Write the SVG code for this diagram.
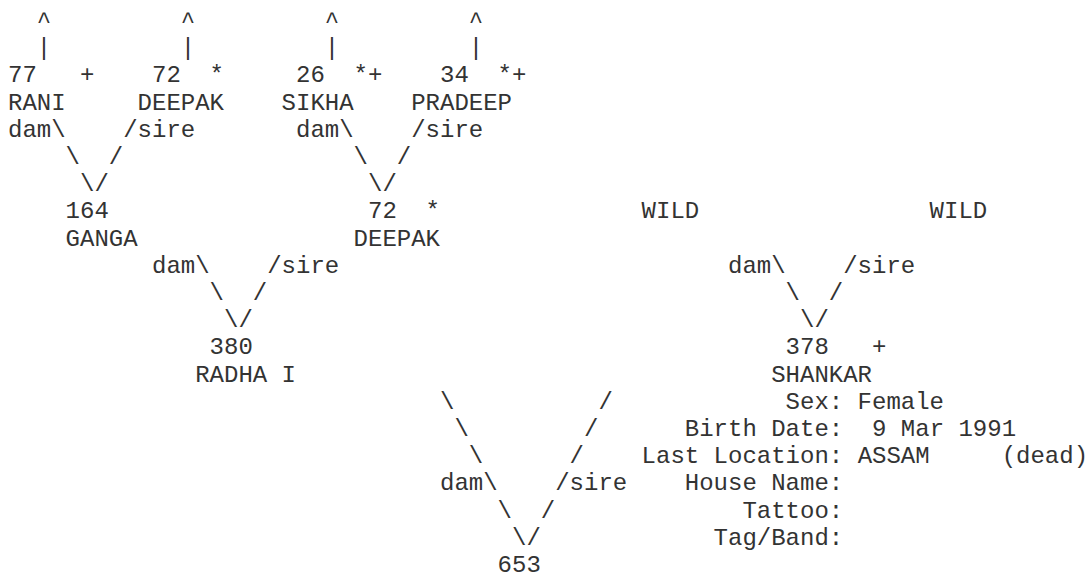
<svg xmlns="http://www.w3.org/2000/svg" width="1091" height="581" viewBox="0 0 1091 581">
<style>
text{font-family:"Liberation Mono","Courier New",monospace;font-size:24px;fill:#333;white-space:pre}
</style>
<rect width="1091" height="581" fill="#fff"/>
<g id="connectors">
<text x="36.8" y="28">^</text><text x="180.8" y="28">^</text><text x="324.8" y="28">^</text><text x="468.8" y="28">^</text>
<text x="36.8" y="55.2">|</text><text x="180.8" y="55.2">|</text><text x="324.8" y="55.2">|</text><text x="468.8" y="55.2">|</text>
<text x="8" y="136.8">dam\</text><text x="123.2" y="136.8">/sire</text>
<text x="65.6" y="164">\</text><text x="108.8" y="164">/</text>
<text x="80" y="191.2">\/</text>
<text x="296" y="136.8">dam\</text><text x="411.2" y="136.8">/sire</text>
<text x="353.6" y="164">\</text><text x="396.8" y="164">/</text>
<text x="368" y="191.2">\/</text>
<text x="152" y="272.8">dam\</text><text x="267.2" y="272.8">/sire</text>
<text x="209.6" y="300">\</text><text x="252.8" y="300">/</text>
<text x="224" y="327.2">\/</text>
<text x="728" y="272.8">dam\</text><text x="843.2" y="272.8">/sire</text>
<text x="785.6" y="300">\</text><text x="828.8" y="300">/</text>
<text x="800" y="327.2">\/</text>
<text x="440" y="408.8">\</text><text x="598.4" y="408.8">/</text>
<text x="454.4" y="436">\</text><text x="584" y="436">/</text>
<text x="468.8" y="463.2">\</text><text x="569.6" y="463.2">/</text>
<text x="440" y="490.4">dam\</text><text x="555.2" y="490.4">/sire</text>
<text x="497.6" y="517.6">\</text><text x="540.8" y="517.6">/</text>
<text x="512" y="544.8">\/</text>
</g>
<g id="node-rani"><text x="8" y="82.4">77</text><text x="80" y="82.4">+</text><text x="8" y="109.6">RANI</text></g>
<g id="node-deepak-top"><text x="152" y="82.4">72</text><text x="209.6" y="82.4">*</text><text x="137.6" y="109.6">DEEPAK</text></g>
<g id="node-sikha"><text x="296" y="82.4">26</text><text x="353.6" y="82.4">*+</text><text x="281.6" y="109.6">SIKHA</text></g>
<g id="node-pradeep"><text x="440" y="82.4">34</text><text x="497.6" y="82.4">*+</text><text x="411.2" y="109.6">PRADEEP</text></g>
<g id="node-ganga"><text x="65.6" y="218.4">164</text><text x="65.6" y="245.6">GANGA</text></g>
<g id="node-deepak"><text x="368" y="218.4">72</text><text x="425.6" y="218.4">*</text><text x="353.6" y="245.6">DEEPAK</text></g>
<g id="node-wild-dam"><text x="641.6" y="218.4">WILD</text></g>
<g id="node-wild-sire"><text x="929.6" y="218.4">WILD</text></g>
<g id="node-radha"><text x="209.6" y="354.4">380</text><text x="195.2" y="381.6" xml:space="preserve">RADHA I</text></g>
<g id="node-shankar">
<text x="785.6" y="354.4">378</text><text x="872" y="354.4">+</text>
<text x="771.2" y="381.6">SHANKAR</text>
<text x="785.6" y="408.8" xml:space="preserve">Sex: Female</text>
<text x="684.8" y="436" xml:space="preserve">Birth Date:  9 Mar 1991</text>
<text x="641.6" y="463.2" xml:space="preserve">Last Location: ASSAM     (dead)</text>
<text x="684.8" y="490.4" xml:space="preserve">House Name:</text>
<text x="742.4" y="517.6">Tattoo:</text>
<text x="713.6" y="544.8">Tag/Band:</text>
</g>
<g id="node-653"><text x="497.6" y="572">653</text></g>
</svg>
